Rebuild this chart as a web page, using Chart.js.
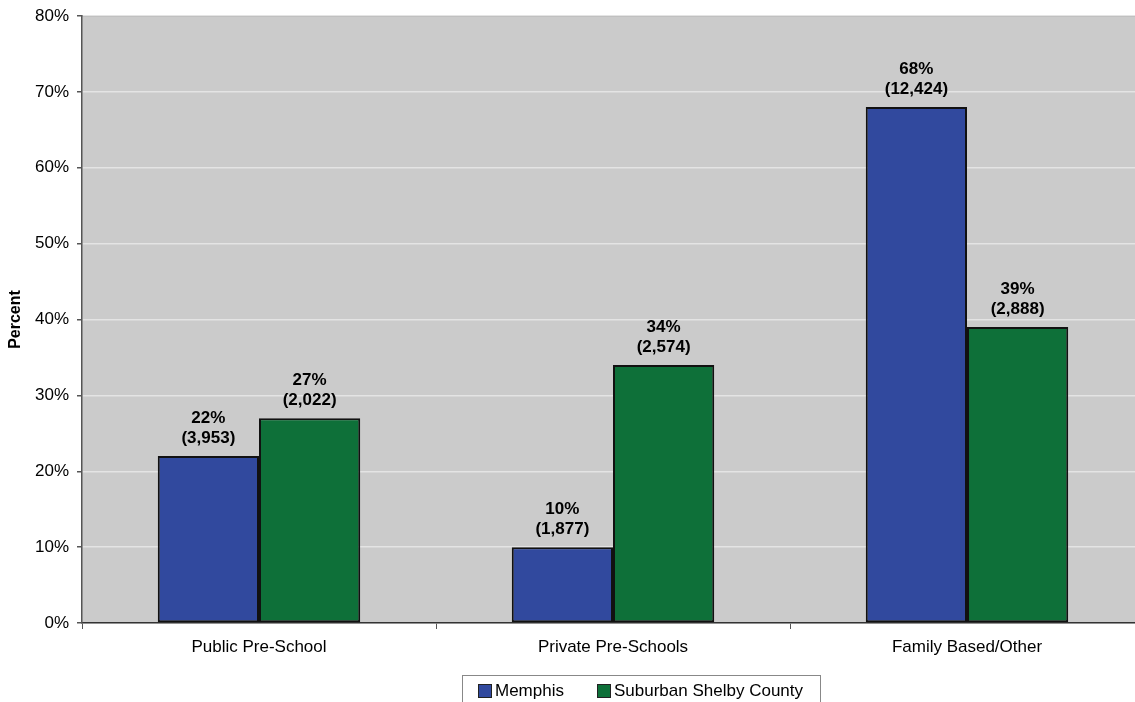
<!DOCTYPE html>
<html>
<head>
<meta charset="utf-8">
<script src="https://cdn.jsdelivr.net/npm/chart.js@4/dist/chart.umd.min.js"></script>
<style>
  html, body { margin: 0; padding: 0; background: #fff; overflow: hidden; }
  #wrap { position: relative; width: 1150px; height: 702px; }
  #legend {
    position: absolute; left: 462px; top: 675px; width: 359px; height: 40px;
    border: 1px solid #888; box-sizing: border-box;
    font: 17px "Liberation Sans", Arial, sans-serif; color: #000;
  }
  .item { position: absolute; top: 5px; line-height: 19px; }
  .sw { display: inline-block; width: 14px; height: 14px; border: 1px solid #222; vertical-align: -2px; margin-right: 3px; box-sizing: border-box; }
</style>
</head>
<body>
<div id="wrap">
  <canvas id="PreschoolChart" width="1150" height="702"></canvas>
  <div id="legend">
    <span class="item" style="left:15px"><span class="sw" style="background:#31499E"></span>Memphis</span>
    <span class="item" style="left:134px"><span class="sw" style="background:#0E7039"></span>Suburban Shelby County</span>
  </div>
</div>
<script>
var categories = ['Public Pre-School', 'Private Pre-Schools', 'Family Based/Other'];
var memphisPct = [22, 10, 68];
var suburbanPct = [27, 34, 39];
var memphisCount = ['3,953', '1,877', '12,424'];
var suburbanCount = ['2,022', '2,574', '2,888'];
var counts = [memphisCount, suburbanCount];

var plotBg = {
    id: 'plotBg',
    beforeDraw: function (chart) {
        var a = chart.chartArea, c = chart.ctx;
        c.save();
        c.fillStyle = '#CBCBCB';
        c.fillRect(a.left, a.top, a.right - a.left, a.bottom - a.top);
        c.strokeStyle = '#8C8C8C';
        c.lineWidth = 1.5;
        c.beginPath();
        c.moveTo(a.left, a.top);
        c.lineTo(a.right, a.top);
        c.stroke();
        c.restore();
    }
};

var barLabels = {
    id: 'barLabels',
    afterDatasetsDraw: function (chart) {
        var c = chart.ctx;
        c.save();
        c.font = 'bold 17px "Liberation Sans", Arial, sans-serif';
        c.fillStyle = '#000';
        c.textAlign = 'center';
        c.textBaseline = 'alphabetic';
        chart.data.datasets.forEach(function (ds, i) {
            chart.getDatasetMeta(i).data.forEach(function (bar, j) {
                c.fillText(ds.data[j] + '%', bar.x, bar.y - 33);
                c.fillText('(' + counts[i][j] + ')', bar.x, bar.y - 13);
            });
        });
        c.restore();
    }
};

var ctx = document.getElementById('PreschoolChart').getContext('2d');
var PreschoolChart = new Chart(ctx, {
    type: 'bar',
    data: {
        labels: categories,
        datasets: [{
            label: 'Memphis',
            data: memphisPct,
            backgroundColor: '#31499E',
            borderColor: '#111',
            borderWidth: 2,
            borderSkipped: false
        }, {
            label: 'Suburban Shelby County',
            data: suburbanPct,
            backgroundColor: '#0E7039',
            borderColor: '#111',
            borderWidth: 2,
            borderSkipped: false
        }]
    },
    options: {
        responsive: false,
        animation: false,
        layout: { padding: { top: 16, right: 6, left: 0, bottom: 0 } },
        datasets: { bar: { categoryPercentage: 0.572, barPercentage: 1 } },
        plugins: {
            legend: { display: false },
            tooltip: { enabled: false }
        },
        scales: {
            x: {
                grid: { drawOnChartArea: false, drawTicks: true, tickLength: 6, tickColor: '#555', offset: true },
                border: { color: '#333', width: 1.5 },
                ticks: { color: '#000', padding: 8, font: { family: '"Liberation Sans", Arial, sans-serif', size: 17 } },
                afterFit: function (s) { s.height = 79; }
            },
            y: {
                min: 0,
                max: 80,
                ticks: {
                    stepSize: 10,
                    color: '#000',
                    padding: 8,
                    font: { family: '"Liberation Sans", Arial, sans-serif', size: 17 },
                    callback: function (v) { return v + '%'; }
                },
                grid: { color: '#E4E4E4', lineWidth: 1.5, tickColor: '#555', tickLength: 5 },
                border: { color: '#555', width: 1.5 },
                title: {
                    display: true,
                    text: 'Percent',
                    color: '#000',
                    padding: { top: 6, bottom: 6 },
                    font: { family: '"Liberation Sans", Arial, sans-serif', size: 16, weight: 'bold' }
                },
                afterFit: function (s) { s.width = 82; s.paddingTop = 0; s.paddingBottom = 0; }
            }
        }
    },
    plugins: [plotBg, barLabels]
});
</script>
</body>
</html>
